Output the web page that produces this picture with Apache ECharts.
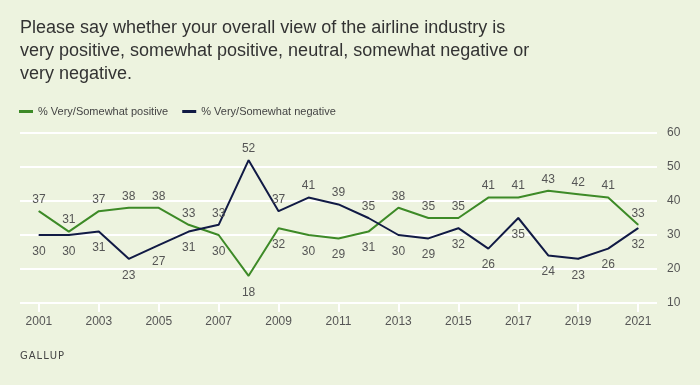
<!DOCTYPE html>
<html><head><meta charset="utf-8">
<script src="https://cdn.jsdelivr.net/npm/echarts@6/dist/echarts.min.js"></script>
<style>html,body{margin:0;padding:0;background:#edf3df}#c{width:700px;height:385px}</style>
</head><body><div id="c"></div>
<script>
const years = [2001,2002,2003,2004,2005,2006,2007,2008,2009,2010,2011,2012,2013,2014,2015,2016,2017,2018,2019,2020,2021];
const positive = [37,31,37,38,38,33,30,18,32,30,29,31,38,35,35,41,41,43,42,41,33];
const negative = [30,30,31,23,27,31,33,52,37,41,39,35,30,29,32,26,35,24,23,26,32];
const xTicks = [2001,2003,2005,2007,2009,2011,2013,2015,2017,2019,2021];
const titleLines = ['Please say whether your overall view of the airline industry is','very positive, somewhat positive, neutral, somewhat negative or','very negative.'];
const seriesNames = ['% Very/Somewhat positive','% Very/Somewhat negative'];

const FONT = '"Liberation Sans",sans-serif';
const GREEN = '#3d8a27', NAVY = '#111a45', TXT = '#555';

function mk(vals, other){
  return vals.map((v,i)=>{
    const up = v >= other[i];
    return {value:[years[i], v], label:{position: up?'top':'bottom', distance: up?5:10}};
  });
}

const chart = echarts.init(document.getElementById('c'));
chart.setOption({
  backgroundColor:'#edf3df',
  animation:false,
  textStyle:{fontFamily:FONT},
  graphic:[
    {type:'text', left:20, top:17, style:{text:titleLines.join('\n'), font:'18px '+FONT, fill:'#333', lineHeight:23}},
    {type:'text', left:20, top:351, style:{text:'G\u200AA\u200AL\u200AL\u200AU\u200AP', font:'10px "DejaVu Sans"', fill:'#444'}}
  ],
  legend:{left:19, top:106, padding:0, itemWidth:14, itemHeight:3, itemGap:14, icon:'rect',
    textStyle:{fontSize:11, color:'#444', fontFamily:FONT},
    data:seriesNames},
  grid:{left:20, right:43, top:133, bottom:82},
  xAxis:{type:'value', min:2000.37, max:2021.63,
    axisLine:{show:false}, splitLine:{show:false},
    axisTick:{show:true, customValues:xTicks, length:9, inside:false, lineStyle:{color:'#fff', width:2}},
    axisLabel:{customValues:xTicks, color:TXT, fontSize:12, margin:13, formatter:v=>String(v)}},
  yAxis:{type:'value', position:'right', min:10, max:60, interval:10,
    axisLine:{show:false}, axisTick:{show:false},
    axisLabel:{color:TXT, fontSize:12, margin:10},
    splitLine:{lineStyle:{color:'#fff', width:2}}},
  series:[
    {name:seriesNames[0], type:'line', data:mk(positive,negative), symbol:'circle', symbolSize:1, showSymbol:true,
      lineStyle:{color:GREEN, width:2}, itemStyle:{color:GREEN},
      label:{show:true, color:TXT, fontSize:12, formatter:p=>p.value[1]}},
    {name:seriesNames[1], type:'line', data:mk(negative,positive), symbol:'circle', symbolSize:1, showSymbol:true,
      lineStyle:{color:NAVY, width:2}, itemStyle:{color:NAVY},
      label:{show:true, color:TXT, fontSize:12, formatter:p=>p.value[1]}}
  ]
});
</script></body></html>
